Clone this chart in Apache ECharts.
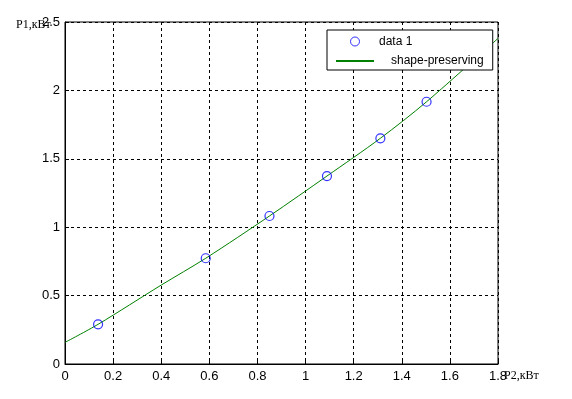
<!DOCTYPE html>
<html>
<head>
<meta charset="utf-8">
<script src="https://cdn.jsdelivr.net/npm/echarts@6/dist/echarts.min.js"></script>
<style>
html,body{margin:0;padding:0;background:#fff;}
#c{width:572px;height:399px;}
</style>
</head>
<body>
<div id="c"></div>
<script>
var dataX = [0.1375, 0.585, 0.85, 1.089, 1.311, 1.503];
var dataY = [0.29, 0.773, 1.082, 1.374, 1.65, 1.917];
var curveX = [0, 0.1375, 0.4, 0.585, 0.85, 1.089, 1.311, 1.503, 1.8];
var curveY = [0.158, 0.29, 0.577, 0.773, 1.082, 1.374, 1.65, 1.917, 2.38];
var xTicks = [0, 0.2, 0.4, 0.6, 0.8, 1, 1.2, 1.4, 1.6, 1.8];
var yTicks = [0, 0.5, 1, 1.5, 2, 2.5];
var xName = 'P2,кВт';
var yName = 'P1,кВт';

var chart = echarts.init(document.getElementById('c'));
var pts = dataX.map(function (x, i) { return [x, dataY[i]]; });
var curve = curveX.map(function (x, i) { return [x, curveY[i]]; });
var lblFont = { color: '#000', fontFamily: 'Liberation Sans, Arial, sans-serif', fontSize: 13 };
var circleIcon = 'path://M0,0 M38,14 M23.5,7 A4.5,4.5 0 1 1 14.5,7 A4.5,4.5 0 1 1 23.5,7 Z';
var serif = '12px "Liberation Serif", "Times New Roman", serif';

chart.setOption({
  animation: false,
  backgroundColor: '#fff',
  grid: { left: 65, right: 74, top: 22, bottom: 35, show: true, borderColor: '#000', borderWidth: 1, backgroundColor: 'transparent' },
  graphic: [
    { type: 'text', left: 16, top: 19, style: { text: yName, fill: '#000', font: serif } },
    { type: 'text', left: 504, top: 370, style: { text: xName, fill: '#000', font: serif } }
  ],
  xAxis: {
    type: 'value', min: 0, max: 1.8, interval: 0.2,
    axisLine: { lineStyle: { color: '#000', width: 1 } },
    axisTick: { inside: true, length: 4, lineStyle: { color: '#000' } },
    axisLabel: Object.assign({ margin: 6, formatter: function (v) { return String(+v.toFixed(1)); } }, lblFont),
    splitLine: { show: true, lineStyle: { color: '#000', type: [3, 3], width: 1 } }
  },
  yAxis: {
    type: 'value', min: 0, max: 2.5, interval: 0.5,
    axisLine: { lineStyle: { color: '#000', width: 1 } },
    axisTick: { inside: true, length: 4, lineStyle: { color: '#000' } },
    axisLabel: Object.assign({ margin: 5, formatter: function (v) { return String(+v.toFixed(1)); } }, lblFont),
    splitLine: { show: true, lineStyle: { color: '#000', type: [3, 3], width: 1 } }
  },
  legend: {
    orient: 'vertical', left: 327, top: 30,
    padding: [4, 9, 3, 8], itemGap: 6, itemWidth: 38, itemHeight: 14,
    backgroundColor: '#fff', borderColor: '#000', borderWidth: 1, borderRadius: 0,
    textStyle: {
      color: '#000', fontFamily: 'Liberation Sans, Arial, sans-serif', fontSize: 12,
      rich: { a: { padding: [0, 0, 0, 0], fontSize: 12, fontFamily: 'Liberation Sans, Arial, sans-serif' },
              b: { padding: [0, 0, 0, 12], fontSize: 12, fontFamily: 'Liberation Sans, Arial, sans-serif' } }
    },
    formatter: function (n) { return n === 'data 1' ? '{a|' + n + '}' : '{b|' + n + '}'; },
    data: [
      { name: 'data 1', icon: circleIcon, itemStyle: { color: 'rgba(0,0,0,0)', borderColor: '#0000ff', borderWidth: 1 } },
      { name: 'shape-preserving', itemStyle: { opacity: 0 } }
    ]
  },
  series: [
    {
      name: 'shape-preserving', type: 'line', data: curve, smooth: 0.3,
      symbol: 'none', lineStyle: { color: '#008000', width: 1 }, itemStyle: { color: '#008000' }, z: 3
    },
    {
      name: 'data 1', type: 'scatter', data: pts, symbol: 'circle', symbolSize: 9,
      itemStyle: { color: 'rgba(0,0,0,0)', borderColor: '#0000ff', borderWidth: 1.2 }, z: 4
    }
  ]
});
</script>
</body>
</html>
